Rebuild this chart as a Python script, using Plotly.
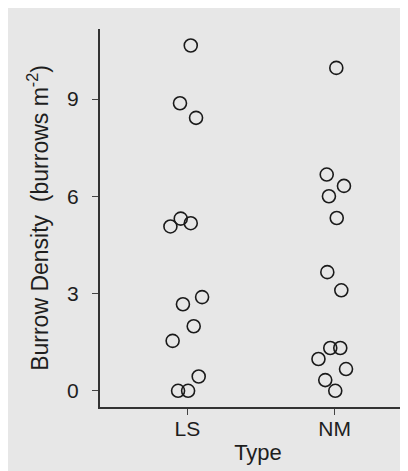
import plotly.graph_objects as go

categories = ["LS", "NM"]

ls_density = [10.65, 8.87, 8.42, 5.07, 5.31, 5.17, 2.89, 2.67, 1.99, 1.54, 0.44, 0.0, 0.0]
ls_jitter = [0.023, -0.05, 0.059, -0.115, -0.045, 0.023, 0.10, -0.03, 0.043, -0.10, 0.077, -0.063, 0.005]

nm_density = [9.96, 6.67, 6.32, 6.0, 5.33, 3.66, 3.10, 1.32, 1.32, 0.98, 0.67, 0.33, 0.0]
nm_jitter = [0.011, -0.054, 0.063, -0.039, 0.014, -0.05, 0.045, -0.03, 0.038, -0.11, 0.077, -0.064, 0.004]

y_ticks = [0, 3, 6, 9]

fig = go.Figure()
for i, (vals, jit) in enumerate([(ls_density, ls_jitter), (nm_density, nm_jitter)]):
    fig.add_trace(go.Scatter(
        x=[i + 1 + j for j in jit],
        y=vals,
        mode="markers",
        marker=dict(symbol="circle-open", size=13, color="#1a1a1a", line=dict(width=1.6, color="#1a1a1a")),
        showlegend=False,
        hoverinfo="skip",
    ))

FAM = "Liberation Sans, Arial, sans-serif"
axis_font = dict(family=FAM, size=21, color="#1e1e1e")

fig.update_layout(
    width=408, height=471,
    margin=dict(l=92, r=0, t=21, b=72),
    paper_bgcolor="#e7e7e7",
    plot_bgcolor="#e7e7e7",
    font=axis_font,
    xaxis=dict(
        range=[0.407, 2.552],
        tickvals=[1, 2], ticktext=categories,
        showgrid=False, zeroline=False,
        showline=True, linecolor="#333333", linewidth=2,
        ticks="outside", ticklen=6, tickwidth=1.2, tickcolor="#444444",
        tickfont=axis_font,
        ticklabelstandoff=-4,
        title=dict(text="Type", font=dict(family=FAM, size=22, color="#1e1e1e"), standoff=5),
    ),
    yaxis=dict(
        range=[-0.5, 11.16],
        tickvals=y_ticks,
        showgrid=False, zeroline=False,
        showline=True, linecolor="#333333", linewidth=2,
        ticks="outside", ticklen=6, tickwidth=1.2, tickcolor="#444444",
        tickfont=axis_font,
        ticklabelstandoff=9,
        title=dict(text="Burrow Density  (burrows m<sup>-2</sup>)", font=dict(family=FAM, size=23, color="#1e1e1e"), standoff=12),
    ),
)

fig.write_html("out.html")
